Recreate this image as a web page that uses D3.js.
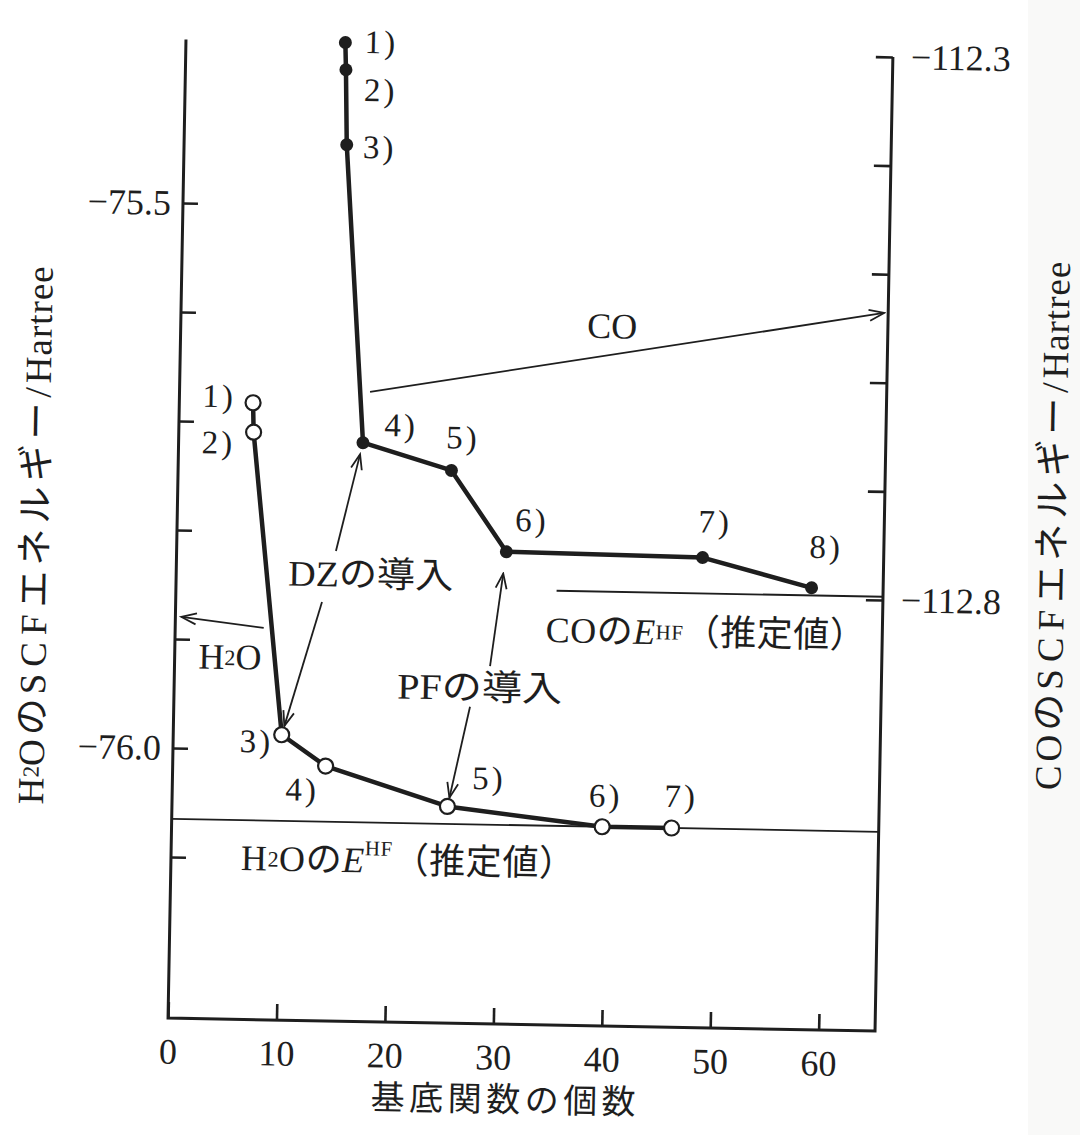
<!DOCTYPE html>
<html>
<head>
<meta charset="utf-8">
<script src="https://cdn.jsdelivr.net/npm/d3@7"></script>
<style>
  body { margin: 0; background: #fff; }
  svg text { font-family: "Liberation Serif", "Noto Sans CJK JP", serif; fill: #1e1e1e; }
</style>
</head>
<body>
<svg id="chart" width="1080" height="1135"></svg>
<script>
// SCF energy vs number of basis functions
const h2oLabels = ["1)", "2)", "3)", "4)", "5)", "6)", "7)"];
const h2oBasis = [6.8, 6.9, 10.0, 14.1, 25.4, 39.7, 46.1];
const h2oEnergy = [-75.682, -75.709, -75.986, -76.014, -76.049, -76.065, -76.065];

const coLabels = ["1)", "2)", "3)", "4)", "5)", "6)", "7)", "8)"];
const coBasis = [14.7, 14.8, 15.0, 17.0, 25.2, 30.4, 48.5, 58.6];
const coEnergy = [-112.296, -112.321, -112.390, -112.664, -112.688, -112.762, -112.764, -112.790];

// estimated Hartree-Fock limits
const h2oLimit = -76.065;
const coLimit = -112.797;
const coLimitFrom = 35.1;

const xTicks = [0, 10, 20, 30, 40, 50, 60];
const h2oTicks = [-75.5, -75.6, -75.7, -75.8, -75.9, -76.0, -76.1];
const h2oTickLabels = [-75.5, -76.0];
const coTicks = [-112.3, -112.4, -112.5, -112.6, -112.7, -112.8];
const coTickLabels = [-112.3, -112.8];

// layout
const ink = "#1e1e1e";
const plotLeft = 176.5, plotRight = 883.6, plotTop = 46, plotBottom = 1024.8;
const xMax = 65.2;
const coLabelOffset = [[36, -1], [35, 20], [33, 2], [38, -18], [11, -33], [25, -32], [12, -36], [14, -41]];
const h2oLabelOffset = [[-34, -6], [-35, 11], [-25, 7], [-23, 24], [41, -29], [3, -31], [9, -32]];

const svg = d3.select("#chart");
svg.append("rect").attr("width", 1080).attr("height", 1135).attr("fill", "#fff");
svg.append("rect").attr("x", 1028).attr("width", 52).attr("height", 1135).attr("fill", "#f9f9f8");

// the printed page is tilted by about one degree
const g = svg.append("g").attr("transform", "rotate(1.05 540 560)");

const defs = svg.append("defs");
defs.append("marker")
  .attr("id", "arrowhead")
  .attr("viewBox", "-17 -8 19 16")
  .attr("refX", 0)
  .attr("refY", 0)
  .attr("markerWidth", 19)
  .attr("markerHeight", 16)
  .attr("markerUnits", "userSpaceOnUse")
  .attr("orient", "auto")
  .append("path")
  .attr("d", "M-15,-5.5L0,0L-15,5.5")
  .attr("fill", "none")
  .attr("stroke", ink)
  .attr("stroke-width", 1.8);

const x = d3.scaleLinear().domain([0, xMax]).range([plotLeft, plotRight]);
const yH2O = d3.scaleLinear().domain([-75.5, -76.0]).range([209.6, 754.7]);
const yCO = d3.scaleLinear().domain([-112.3, -112.8]).range([50.6, 593.7]);
const fmt = d3.format(".1f");

const styleAxis = sel => {
  sel.attr("font-family", null).attr("font-size", null);
  sel.select(".domain").remove();
  sel.selectAll(".tick line").attr("stroke", ink).attr("stroke-width", 2.6);
  sel.selectAll(".tick text").attr("fill", ink).style("font-size", "36px");
};

// frame: left axis, bottom axis, right axis
g.append("path")
  .attr("d", `M${plotLeft},${plotTop}V${plotBottom}H${plotRight}V${yCO(-112.3)}`)
  .attr("fill", "none")
  .attr("stroke", ink)
  .attr("stroke-width", 3)
  .attr("stroke-linejoin", "miter");

g.append("g")
  .attr("transform", `translate(${plotLeft},0)`)
  .call(d3.axisLeft(yH2O).tickValues(h2oTicks).tickSizeInner(-15).tickSizeOuter(0).tickPadding(12)
    .tickFormat(d => (h2oTickLabels.includes(d) ? fmt(d) : "")))
  .call(styleAxis);

g.append("g")
  .attr("transform", `translate(${plotRight},0)`)
  .call(d3.axisRight(yCO).tickValues(coTicks).tickSizeInner(-17).tickSizeOuter(0).tickPadding(18)
    .tickFormat(d => (coTickLabels.includes(d) ? fmt(d) : "")))
  .call(styleAxis);

g.append("g")
  .attr("transform", `translate(0,${plotBottom})`)
  .call(d3.axisBottom(x).tickValues(xTicks).tickSizeInner(-16).tickSizeOuter(0).tickPadding(20)
    .tickFormat(d3.format("d")))
  .call(styleAxis);

// estimated limits
g.append("line")
  .attr("x1", x(0)).attr("x2", x(xMax))
  .attr("y1", yH2O(h2oLimit)).attr("y2", yH2O(h2oLimit))
  .attr("stroke", ink).attr("stroke-width", 1.8);
g.append("line")
  .attr("x1", x(coLimitFrom)).attr("x2", x(xMax))
  .attr("y1", yCO(coLimit)).attr("y2", yCO(coLimit))
  .attr("stroke", ink).attr("stroke-width", 1.8);

// series
const h2oPts = h2oBasis.map((b, i) => [x(b), yH2O(h2oEnergy[i])]);
const coPts = coBasis.map((b, i) => [x(b), yCO(coEnergy[i])]);
const line = d3.line();

[h2oPts, coPts].forEach(pts => {
  g.append("path")
    .attr("d", line(pts))
    .attr("fill", "none")
    .attr("stroke", ink)
    .attr("stroke-width", 4.5)
    .attr("stroke-linejoin", "round");
});

g.selectAll(".co-dot")
  .data(coPts)
  .join("circle")
  .attr("class", "co-dot")
  .attr("cx", d => d[0])
  .attr("cy", d => d[1])
  .attr("r", 6.5)
  .attr("fill", ink);

g.selectAll(".h2o-dot")
  .data(h2oPts)
  .join("circle")
  .attr("class", "h2o-dot")
  .attr("cx", d => d[0])
  .attr("cy", d => d[1])
  .attr("r", 7.5)
  .attr("fill", "#fff")
  .attr("stroke", ink)
  .attr("stroke-width", 2.2);

const pointLabels = (labels, pts, offsets) => {
  g.append("g")
    .selectAll("text")
    .data(labels)
    .join("text")
    .attr("x", (d, i) => pts[i][0] + offsets[i][0])
    .attr("y", (d, i) => pts[i][1] + offsets[i][1])
    .attr("text-anchor", "middle")
    .attr("dominant-baseline", "central")
    .style("font-size", "33px")
    .style("letter-spacing", "3px")
    .text(d => d);
};
pointLabels(coLabels, coPts, coLabelOffset);
pointLabels(h2oLabels, h2oPts, h2oLabelOffset);

// annotation arrows
const toward = (from, to, gap) => {
  const dx = to[0] - from[0], dy = to[1] - from[1];
  const len = Math.hypot(dx, dy);
  return [to[0] - (dx / len) * gap, to[1] - (dy / len) * gap];
};
const arrows = [
  [[367, 395], [plotRight - 4, 306.7]],
  [[265, 633], [plotLeft + 6, 623.5]],
  [[335.8, 554.7], toward([335.8, 554.7], coPts[3], 12)],
  [[322.8, 606], toward([322.8, 606], h2oPts[2], 9)],
  [[492, 667], toward([492, 667], coPts[5], 22)],
  [[472.7, 708], toward([472.7, 708], h2oPts[4], 9)]
];
arrows.forEach(([a, b]) => {
  g.append("line")
    .attr("x1", a[0]).attr("y1", a[1])
    .attr("x2", b[0]).attr("y2", b[1])
    .attr("stroke", ink)
    .attr("stroke-width", 1.8)
    .attr("marker-end", "url(#arrowhead)");
});

// text annotations
const label = (px, py, size, anchor) =>
  g.append("text")
    .attr("x", px)
    .attr("y", py)
    .attr("text-anchor", anchor)
    .attr("dominant-baseline", "central")
    .style("font-size", size + "px");

label(608, 325, 36, "middle").text("CO");

const h2oTag = label(231.8, 662.7, 36, "middle");
h2oTag.append("tspan").text("H");
h2oTag.append("tspan").style("font-size", "22px").text("2");
h2oTag.append("tspan").text("O");

label(371, 578, 36, "middle").attr("textLength", 165).attr("lengthAdjust", "spacingAndGlyphs").text("DZの導入");
label(482, 689, 36, "middle").attr("textLength", 165).attr("lengthAdjust", "spacingAndGlyphs").text("PFの導入");

const coHF = label(547, 630, 36, "start").attr("textLength", 320).attr("lengthAdjust", "spacing");
coHF.append("tspan").text("COの");
coHF.append("tspan").style("font-style", "italic").text("E");
coHF.append("tspan").style("font-size", "21px").text("HF");
coHF.append("tspan").text("（推定値）");

const h2oHF = label(246.5, 863.5, 36, "start").attr("textLength", 334).attr("lengthAdjust", "spacing");
h2oHF.append("tspan").text("H");
h2oHF.append("tspan").style("font-size", "22px").text("2");
h2oHF.append("tspan").text("Oの");
h2oHF.append("tspan").style("font-style", "italic").text("E");
h2oHF.append("tspan").style("font-size", "21px").attr("dy", "-12").text("HF");
h2oHF.append("tspan").attr("dy", "12").text("（推定値）");

// axis titles: Latin set tight, kana and SCF spaced out as in print
const titleParts = (text, parts) => {
  parts.forEach(([s, size, spacing]) => {
    const t = text.append("tspan").text(s);
    if (size) t.style("font-size", size + "px");
    if (spacing) t.style("letter-spacing", spacing + "px");
  });
};

const yTitle = label(34.5, 544, 37, "middle").attr("transform", "rotate(-90 34.5 544)");
titleParts(yTitle, [["H"], ["2", 23], ["O", null, 4], ["の", null, 4], ["SCF", null, 7], ["エネルギー", null, 5], ["/", null, 4], ["Hartree", null, 1]]);

const coTitle = label(1051.4, 516, 37, "middle").attr("transform", "rotate(-90 1051.4 516)");
titleParts(coTitle, [["CO", null, 4], ["の", null, 4], ["SCF", null, 7], ["エネルギー", null, 5], ["/", null, 4], ["Hartree", null, 1]]);

label(513, 1100.7, 34, "middle").attr("textLength", 265).attr("lengthAdjust", "spacing").text("基底関数の個数");
</script>
</body>
</html>
